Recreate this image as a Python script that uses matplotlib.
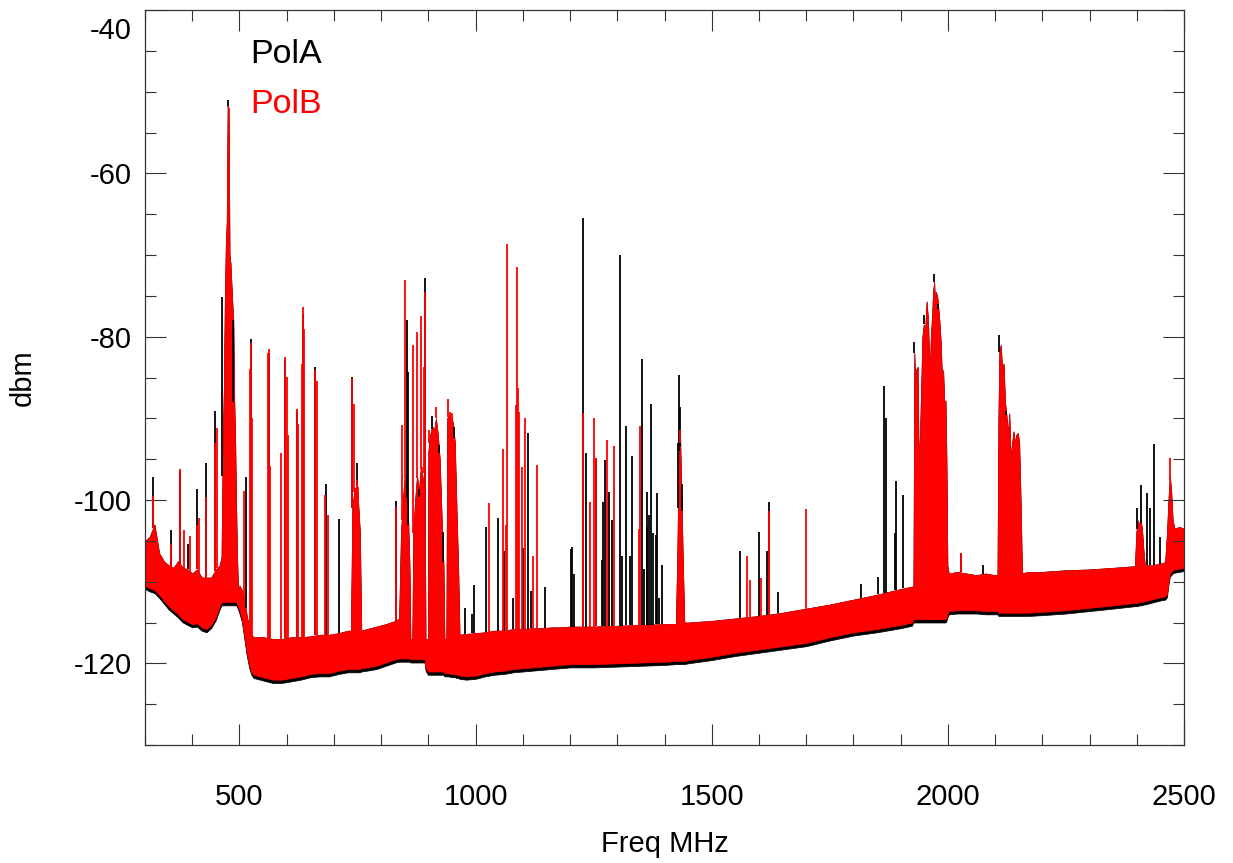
import numpy as np
import matplotlib
matplotlib.use('Agg')
import matplotlib.pyplot as plt
from matplotlib.ticker import MultipleLocator

plt.rcParams['font.family'] = ['Liberation Sans', 'DejaVu Sans']
plt.rcParams['axes.unicode_minus'] = False

# noise band (MHz, dbm)
band_freq = [300, 310, 320, 330, 340, 350, 360, 370, 380, 390, 400, 410, 420, 430, 440, 450, 458,
             462, 465, 467, 469, 471, 473, 475, 477, 479, 481, 483, 485, 487, 489, 491, 493, 495, 497,
             500, 505, 510, 515, 520, 525, 530,
             550, 570, 590, 610, 630, 650, 670, 690, 710, 730, 736, 739, 744, 750, 755, 758, 770, 790, 810, 830,
             838, 842, 846, 850, 856, 860, 862, 866, 868, 872, 876, 880, 884, 888, 892, 894, 899, 900,
             904, 908, 912, 916, 920, 924, 928, 932, 934, 938, 940, 944, 948, 952, 956, 960, 963, 966,
             980, 1000, 1020, 1040, 1060, 1080, 1100, 1120, 1140, 1160, 1180, 1200, 1250, 1300, 1350, 1400,
             1424, 1427, 1430, 1433, 1436, 1439, 1442,
             1450, 1500, 1550, 1600, 1650, 1700, 1750, 1800, 1850, 1900, 1924,
             1927, 1929, 1931, 1933, 1936, 1938, 1941, 1944, 1946, 1949, 1952, 1955, 1958, 1960, 1962,
             1964, 1966, 1969, 1971, 1973, 1975, 1978, 1982, 1985, 1988, 1990, 1993, 1995, 1997, 1999,
             2002, 2020, 2040, 2060, 2080, 2100, 2105,
             2107, 2109, 2112, 2115, 2118, 2121, 2124, 2127, 2130, 2133, 2136, 2139, 2142, 2145, 2148, 2151, 2154, 2157,
             2170, 2200, 2250, 2300, 2350, 2396, 2399, 2402, 2405, 2408, 2411, 2414, 2417, 2430, 2450, 2460,
             2464, 2467, 2470, 2473, 2476, 2480, 2490, 2500]

polB_low = [-110.5, -110.8, -111.0, -111.6, -112.3, -113.0, -113.5, -114.0, -114.6, -114.9, -115.2, -115.1, -115.6, -115.8, -115.3, -114.3, -113.0,
            -112.5, -112.5, -112.5, -112.5, -112.5, -112.5, -112.5, -112.5, -112.5, -112.5, -112.5, -112.5, -112.5, -112.5, -112.5, -112.5, -112.7, -113.0,
            -113.5, -114.5, -116.5, -118.5, -120.0, -121.0, -121.4,
            -121.7, -122.0, -122.0, -121.8, -121.6, -121.3, -121.2, -121.2, -120.9, -120.7, -120.7, -120.7, -120.7, -120.7, -120.7, -120.6, -120.5, -120.3, -119.9, -119.5,
            -119.4, -119.4, -119.4, -119.4, -119.4, -119.4, -119.5, -119.5, -119.5, -119.5, -119.5, -119.5, -119.5, -119.5, -119.5, -120.5, -121.0, -121.0,
            -121.0, -121.0, -121.0, -121.0, -121.0, -121.0, -121.0, -121.0, -121.2, -121.2, -121.2, -121.2, -121.3, -121.3, -121.3, -121.4, -121.4, -121.5,
            -121.6, -121.5, -121.2, -121.0, -120.9, -120.7, -120.6, -120.5, -120.4, -120.3, -120.2, -120.1, -120.1, -120.0, -119.9, -119.8,
            -119.7, -119.7, -119.7, -119.7, -119.7, -119.7, -119.7,
            -119.6, -119.2, -118.7, -118.3, -117.9, -117.5, -116.8, -116.2, -115.8, -115.3, -115.0,
            -114.6, -114.6, -114.6, -114.6, -114.6, -114.6, -114.6, -114.6, -114.6, -114.6, -114.6, -114.6, -114.6, -114.6, -114.6,
            -114.6, -114.6, -114.6, -114.6, -114.6, -114.6, -114.6, -114.6, -114.6, -114.6, -114.6, -114.6, -114.6, -114.4, -114.0,
            -113.6, -113.5, -113.5, -113.5, -113.6, -113.6, -113.6,
            -113.8, -113.8, -113.8, -113.8, -113.8, -113.8, -113.8, -113.8, -113.8, -113.8, -113.8, -113.8, -113.8, -113.8, -113.8, -113.8, -113.8, -113.8,
            -113.8, -113.7, -113.5, -113.2, -112.9, -112.6, -112.6, -112.6, -112.5, -112.5, -112.5, -112.4, -112.4, -112.2, -111.9, -111.8,
            -111.5, -110.0, -109.0, -108.8, -108.6, -108.5, -108.4, -108.3]

polB_high = [-105.0, -104.5, -103.0, -106.5, -107.5, -108.0, -108.3, -107.5, -108.3, -108.5, -109.0, -108.5, -109.5, -109.5, -109.5, -108.5, -108.0,
             -107.0, -92.0, -86.0, -75.5, -69.0, -66.0, -51.7, -52.0, -70.0, -71.0, -73.5, -76.0, -78.0, -88.0, -93.0, -101.0, -107.0, -111.0,
             -110.5, -111.0, -112.0, -114.0, -115.5, -116.5, -116.8,
             -116.8, -117.0, -117.0, -116.8, -116.8, -116.7, -116.5, -116.5, -116.3, -116.0, -116.0, -101.0, -98.5, -99.0, -104.0, -116.0, -115.8, -115.5, -115.2, -114.8,
             -114.5, -104.0, -100.0, -97.0, -100.0, -108.0, -117.0, -117.0, -104.0, -100.0, -97.0, -99.0, -96.0, -98.0, -96.0, -117.0, -117.0, -94.0,
             -92.0, -91.0, -91.5, -90.0, -92.0, -95.0, -102.0, -108.0, -117.0, -117.0, -90.0, -89.5, -90.0, -90.5, -93.0, -102.0, -108.0, -116.5,
             -116.4, -116.3, -116.2, -116.0, -116.0, -115.8, -115.8, -115.7, -115.7, -115.6, -115.6, -115.5, -115.5, -115.4, -115.3, -115.2,
             -115.2, -107.0, -95.0, -92.0, -100.0, -108.0, -115.0,
             -115.0, -114.8, -114.5, -114.2, -113.8, -113.3, -112.8, -112.2, -111.6, -110.9, -110.6,
             -110.6, -82.0, -86.0, -84.0, -83.7, -95.0, -92.0, -85.0, -80.0, -78.5, -79.0, -75.7, -78.0, -82.0, -84.0,
             -80.0, -78.0, -74.3, -73.3, -76.0, -74.5, -75.3, -78.0, -80.8, -86.0, -84.1, -89.0, -87.8, -95.0, -108.0,
             -109.0, -108.8, -109.0, -109.2, -109.0, -109.2, -109.2,
             -90.0, -81.9, -81.0, -84.0, -83.3, -88.0, -89.6, -92.0, -89.4, -95.0, -93.0, -91.6, -93.0, -92.0, -91.8, -93.0, -100.0, -109.0,
             -108.8, -108.8, -108.6, -108.5, -108.3, -108.1, -104.0, -102.5, -103.0, -102.4, -103.5, -106.0, -108.0, -108.0, -107.8, -107.6,
             -104.0, -100.0, -97.0, -99.0, -102.5, -103.5, -103.3, -103.5]

polA_low = [-110.9, -111.2, -111.4, -112.0, -112.7, -113.4, -113.9, -114.4, -115.0, -115.3, -115.6, -115.5, -116.0, -116.2, -115.7, -114.7, -113.4,
            -112.9, -112.9, -112.9, -112.9, -112.9, -112.9, -112.9, -112.9, -112.9, -112.9, -112.9, -112.9, -112.9, -112.9, -112.9, -112.9, -113.1, -113.4,
            -113.9, -114.9, -116.9, -118.9, -120.4, -121.4, -121.8,
            -122.1, -122.4, -122.4, -122.2, -122.0, -121.7, -121.6, -121.6, -121.3, -121.1, -121.1, -121.1, -121.1, -121.1, -121.1, -121.0, -120.9, -120.7, -120.3, -119.9,
            -119.8, -119.8, -119.8, -119.8, -119.8, -119.8, -119.9, -119.9, -119.9, -119.9, -119.9, -119.9, -119.9, -119.9, -119.9, -120.9, -121.4, -121.4,
            -121.4, -121.4, -121.4, -121.4, -121.4, -121.4, -121.4, -121.4, -121.6, -121.6, -121.6, -121.6, -121.7, -121.7, -121.7, -121.8, -121.8, -121.9,
            -122.0, -121.9, -121.6, -121.4, -121.3, -121.1, -121.0, -120.9, -120.8, -120.7, -120.6, -120.5, -120.5, -120.4, -120.3, -120.2,
            -120.1, -120.1, -120.1, -120.1, -120.1, -120.1, -120.1,
            -120.0, -119.6, -119.1, -118.7, -118.3, -117.9, -117.2, -116.6, -116.2, -115.7, -115.4,
            -115.0, -115.0, -115.0, -115.0, -115.0, -115.0, -115.0, -115.0, -115.0, -115.0, -115.0, -115.0, -115.0, -115.0, -115.0,
            -115.0, -115.0, -115.0, -115.0, -115.0, -115.0, -115.0, -115.0, -115.0, -115.0, -115.0, -115.0, -115.0, -114.8, -114.4,
            -114.0, -113.9, -113.9, -113.9, -114.0, -114.0, -114.0,
            -114.2, -114.2, -114.2, -114.2, -114.2, -114.2, -114.2, -114.2, -114.2, -114.2, -114.2, -114.2, -114.2, -114.2, -114.2, -114.2, -114.2, -114.2,
            -114.2, -114.1, -113.9, -113.6, -113.3, -113.0, -113.0, -113.0, -112.9, -112.9, -112.9, -112.8, -112.8, -112.6, -112.3, -112.2,
            -111.9, -110.4, -109.4, -109.2, -109.0, -108.9, -108.8, -108.7]

# narrow lines sticking out of the band
polA_spike_freq = [317, 355, 374, 390, 410, 430, 448, 464, 476, 487, 513, 524.5, 562.5, 596.5, 621, 635, 661,
                   684, 711.5, 739, 748, 831, 855.4, 857.5, 879.4, 892.8, 907, 923, 931.7, 955,
                   977.5, 991.6, 996.6, 1022, 1047, 1061, 1080, 1101, 1110, 1117, 1148, 1202, 1205, 1208,
                   1227, 1234, 1256, 1267, 1270, 1274, 1282, 1288, 1306, 1311, 1318, 1326, 1332, 1352,
                   1357, 1362, 1364, 1368, 1371, 1376, 1382, 1385, 1389, 1395, 1428.5, 1431, 1433.5, 1436.5,
                   1560, 1600, 1616, 1621, 1641, 1817, 1853, 1865, 1869, 1888, 1891, 1906,
                   1929, 1949, 1971, 1980, 2027, 2075, 2109, 2123, 2130, 2400, 2409, 2421, 2428, 2436, 2449]
polA_spike_top = [-97.2, -103.7, -96.5, -105.4, -98.6, -95.5, -89.1, -75.2, -51.0, -88.0, -97.2, -80.3, -82.0, -82.8, -89.2, -77.2, -83.7,
                  -98.0, -102.3, -84.9, -95.5, -100.1, -78.0, -84.3, -99.6, -72.8, -89.7, -93.3, -103.9, -91.0,
                  -113.2, -113.9, -110.4, -103.3, -102.2, -106.3, -112.0, -105.9, -91.8, -111.2, -110.6, -106.0, -105.7, -109.0,
                  -65.5, -94.3, -95.0, -107.3, -100.2, -95.1, -99.0, -102.4, -70.0, -106.9, -90.9, -106.9, -94.6, -82.7,
                  -108.4, -103.3, -99.0, -101.8, -88.2, -104.0, -104.3, -99.2, -112.0, -108.0, -93.0, -84.7, -88.6, -98.0,
                  -106.3, -103.9, -106.3, -100.3, -111.3, -110.3, -109.4, -86.0, -90.0, -104.0, -97.7, -99.4,
                  -80.6, -77.4, -72.3, -76.0, -106.5, -107.9, -79.8, -89.6, -89.4, -101.0, -98.2, -99.2, -101.0, -93.1, -104.5]

polB_spike_freq = [317, 355, 374, 382, 395, 410, 415, 430, 448, 452, 476, 510, 522, 524.5, 527, 560, 562.5, 565,
                   589, 596.5, 600, 603.5, 621, 624.7, 632, 635, 637, 661, 665, 681, 687, 739, 743, 748, 752,
                   831, 843.5, 850.5, 868, 876.6, 883.7, 887.2, 890.7, 892.8, 902, 916, 941, 946, 951, 955,
                   1029, 1057, 1064, 1066, 1085, 1088, 1090, 1092, 1098, 1105, 1121, 1131, 1227, 1242, 1251,
                   1256, 1279, 1293, 1345, 1348, 1432, 1574, 1582, 1604, 1621, 1700,
                   1929, 1955, 1969, 1971, 2027, 2109, 2471]
polB_spike_top = [-99.5, -105.4, -96.2, -103.7, -104.4, -103.0, -102.2, -99.6, -93.0, -91.2, -51.7, -98.9, -84.0, -80.8, -90.0, -82.0, -81.5, -95.8,
                  -94.3, -82.5, -84.9, -92.1, -88.8, -90.7, -83.4, -76.4, -79.0, -84.1, -85.4, -99.4, -101.8, -85.1, -88.3, -97.5, -98.4,
                  -100.8, -90.8, -73.1, -81.0, -79.4, -77.5, -96.0, -83.7, -74.5, -91.4, -88.6, -87.6, -89.2, -89.4, -92.7,
                  -100.4, -93.8, -103.0, -68.6, -88.4, -71.5, -86.3, -89.2, -95.9, -90.0, -106.9, -95.7, -89.4, -100.2, -90.0,
                  -94.8, -92.7, -93.4, -103.5, -90.9, -91.4, -106.8, -109.8, -109.6, -101.4, -101.1,
                  -82.0, -75.7, -74.3, -73.3, -106.5, -81.9, -94.9]

y_ticks = [-120, -100, -80, -60, -40]
y_ticklabels = ['-120', '-100', '-80', '-60', '']

fig = plt.figure(figsize=(12.33, 8.63), dpi=100)
ax = fig.add_axes([145 / 1233, 118 / 863, 1039 / 1233, 735 / 863])

# PolA first, PolB overplotted
ax.fill_between(band_freq, polA_low, polB_high, color='black', lw=0.5)
base_a = np.interp(polA_spike_freq, band_freq, polB_high)
ax.vlines(polA_spike_freq, base_a, polA_spike_top, color='black', lw=1.3)

ax.fill_between(band_freq, polB_low, polB_high, color='red', lw=0.5)
base_b = np.interp(polB_spike_freq, band_freq, polB_high)
ax.vlines(polB_spike_freq, base_b, polB_spike_top, color='red', lw=1.3)

ax.set_xlim(300, 2500)
ax.set_ylim(-130, -40)
ax.xaxis.set_major_locator(MultipleLocator(500))
ax.xaxis.set_minor_locator(MultipleLocator(100))
ax.set_yticks(y_ticks, y_ticklabels)
ax.yaxis.set_minor_locator(MultipleLocator(5))
ax.tick_params(which='both', direction='in', top=True, right=True, width=0.8, color='#333333')
ax.tick_params(which='major', length=15)
ax.tick_params(which='minor', length=7.7)
ax.tick_params(axis='x', labelsize=21, pad=27)
ax.tick_params(axis='y', labelsize=21, pad=9.4)
for s in ax.spines.values():
    s.set_linewidth(0.9)
    s.set_color('#333333')

# IDL pushes the top label down inside the frame
ax.text(-0.0125, -40.9, '-40', fontsize=21, ha='right', va='top',
        transform=ax.get_yaxis_transform())

ax.set_xlabel('Freq MHz', fontsize=21, labelpad=14)
ax.set_ylabel('dbm', fontsize=21, labelpad=27)

ax.text(0.101, 0.928, 'PolA', color='black', fontsize=24.5, transform=ax.transAxes, va='baseline')
ax.text(0.101, 0.860, 'PolB', color='red', fontsize=24.5, transform=ax.transAxes, va='baseline')

fig.savefig('out.png', dpi=100)
